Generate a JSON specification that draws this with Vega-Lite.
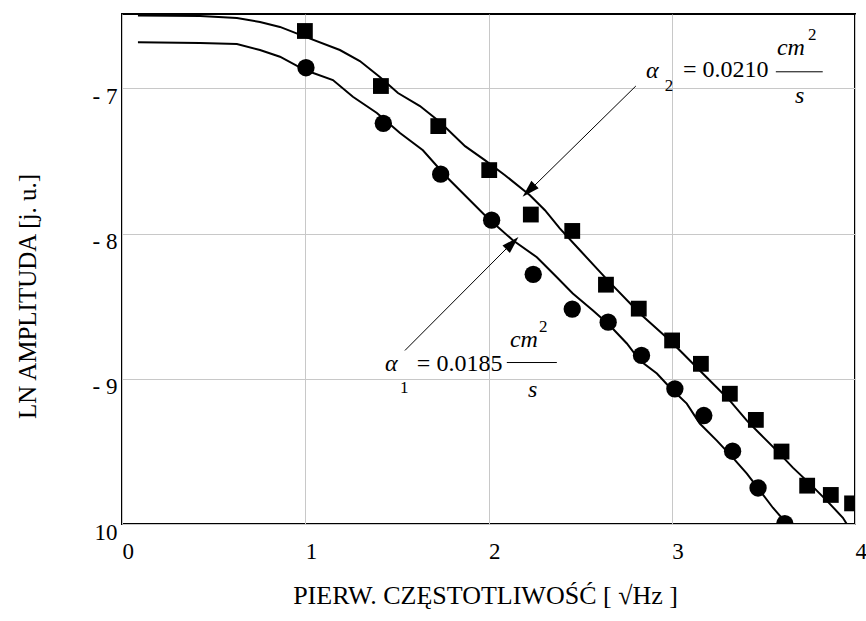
{
  "$schema": "https://vega.github.io/schema/vega-lite/v6.json",
  "width": 733,
  "height": 510,
  "autosize": {"type": "none"},
  "padding": {"left": 122, "top": 14, "right": 11, "bottom": 97},
  "background": "white",
  "config": {
    "view": {"stroke": "black", "strokeWidth": 2},
    "axis": {
      "domain": false,
      "ticks": false,
      "tickSize": 0,
      "grid": true,
      "gridColor": "#c8c8c8",
      "gridWidth": 1,
      "labelFont": "Liberation Serif",
      "labelFontSize": 23,
      "labelColor": "black",
      "labelOverlap": false,
      "labelBound": false,
      "labelFlush": false,
      "titleFont": "Liberation Serif",
      "titleFontSize": 25,
      "titleFontWeight": "normal",
      "titleColor": "black"
    }
  },
  "datasets": {
    "points": [
      {"series": "a2", "x": 0.998, "y": -6.605},
      {"series": "a2", "x": 1.413, "y": -6.984},
      {"series": "a2", "x": 1.726, "y": -7.26},
      {"series": "a2", "x": 2.004, "y": -7.563},
      {"series": "a2", "x": 2.231, "y": -7.869},
      {"series": "a2", "x": 2.457, "y": -7.982},
      {"series": "a2", "x": 2.641, "y": -8.352},
      {"series": "a2", "x": 2.82, "y": -8.517},
      {"series": "a2", "x": 3.002, "y": -8.736},
      {"series": "a2", "x": 3.159, "y": -8.897},
      {"series": "a2", "x": 3.317, "y": -9.103},
      {"series": "a2", "x": 3.459, "y": -9.283},
      {"series": "a2", "x": 3.599, "y": -9.501},
      {"series": "a2", "x": 3.739, "y": -9.736},
      {"series": "a2", "x": 3.868, "y": -9.8},
      {"series": "a2", "x": 3.984, "y": -9.858},
      {"series": "a1", "x": 1.004, "y": -6.858},
      {"series": "a1", "x": 1.426, "y": -7.241},
      {"series": "a1", "x": 1.739, "y": -7.591},
      {"series": "a1", "x": 2.017, "y": -7.908},
      {"series": "a1", "x": 2.244, "y": -8.281},
      {"series": "a1", "x": 2.457, "y": -8.52},
      {"series": "a1", "x": 2.653, "y": -8.61},
      {"series": "a1", "x": 2.835, "y": -8.839},
      {"series": "a1", "x": 3.017, "y": -9.069},
      {"series": "a1", "x": 3.175, "y": -9.253},
      {"series": "a1", "x": 3.332, "y": -9.499},
      {"series": "a1", "x": 3.471, "y": -9.752},
      {"series": "a1", "x": 3.617, "y": -9.997}
    ],
    "curves": [
      {"series": "a2", "x": 0.087, "y": -6.499},
      {"series": "a2", "x": 0.426, "y": -6.501},
      {"series": "a2", "x": 0.627, "y": -6.515},
      {"series": "a2", "x": 0.753, "y": -6.543},
      {"series": "a2", "x": 0.862, "y": -6.577},
      {"series": "a2", "x": 0.998, "y": -6.644},
      {"series": "a2", "x": 1.189, "y": -6.736},
      {"series": "a2", "x": 1.298, "y": -6.812},
      {"series": "a2", "x": 1.407, "y": -6.922},
      {"series": "a2", "x": 1.506, "y": -7.032},
      {"series": "a2", "x": 1.626, "y": -7.122},
      {"series": "a2", "x": 1.735, "y": -7.232},
      {"series": "a2", "x": 1.872, "y": -7.398},
      {"series": "a2", "x": 1.98, "y": -7.494},
      {"series": "a2", "x": 2.09, "y": -7.598},
      {"series": "a2", "x": 2.226, "y": -7.736},
      {"series": "a2", "x": 2.308, "y": -7.839},
      {"series": "a2", "x": 2.389, "y": -7.964},
      {"series": "a2", "x": 2.499, "y": -8.115},
      {"series": "a2", "x": 2.651, "y": -8.322},
      {"series": "a2", "x": 2.826, "y": -8.55},
      {"series": "a2", "x": 2.99, "y": -8.736},
      {"series": "a2", "x": 3.061, "y": -8.826},
      {"series": "a2", "x": 3.153, "y": -8.943},
      {"series": "a2", "x": 3.246, "y": -9.06},
      {"series": "a2", "x": 3.317, "y": -9.15},
      {"series": "a2", "x": 3.41, "y": -9.288},
      {"series": "a2", "x": 3.481, "y": -9.378},
      {"series": "a2", "x": 3.573, "y": -9.495},
      {"series": "a2", "x": 3.661, "y": -9.612},
      {"series": "a2", "x": 3.753, "y": -9.722},
      {"series": "a2", "x": 3.846, "y": -9.839},
      {"series": "a2", "x": 3.934, "y": -9.957},
      {"series": "a2", "x": 3.955, "y": -10.0},
      {"series": "a1", "x": 0.087, "y": -6.683},
      {"series": "a1", "x": 0.426, "y": -6.688},
      {"series": "a1", "x": 0.627, "y": -6.694},
      {"series": "a1", "x": 0.753, "y": -6.736},
      {"series": "a1", "x": 0.862, "y": -6.782},
      {"series": "a1", "x": 0.998, "y": -6.874},
      {"series": "a1", "x": 1.151, "y": -6.943},
      {"series": "a1", "x": 1.26, "y": -7.058},
      {"series": "a1", "x": 1.391, "y": -7.17},
      {"series": "a1", "x": 1.517, "y": -7.308},
      {"series": "a1", "x": 1.642, "y": -7.426},
      {"series": "a1", "x": 1.773, "y": -7.612},
      {"series": "a1", "x": 1.882, "y": -7.75},
      {"series": "a1", "x": 1.991, "y": -7.888},
      {"series": "a1", "x": 2.133, "y": -8.046},
      {"series": "a1", "x": 2.264, "y": -8.163},
      {"series": "a1", "x": 2.373, "y": -8.301},
      {"series": "a1", "x": 2.46, "y": -8.412},
      {"series": "a1", "x": 2.57, "y": -8.53},
      {"series": "a1", "x": 2.662, "y": -8.633},
      {"series": "a1", "x": 2.755, "y": -8.757},
      {"series": "a1", "x": 2.826, "y": -8.874},
      {"series": "a1", "x": 2.919, "y": -8.964},
      {"series": "a1", "x": 2.99, "y": -9.06},
      {"series": "a1", "x": 3.082, "y": -9.171},
      {"series": "a1", "x": 3.153, "y": -9.308},
      {"series": "a1", "x": 3.246, "y": -9.426},
      {"series": "a1", "x": 3.333, "y": -9.543},
      {"series": "a1", "x": 3.41, "y": -9.653},
      {"series": "a1", "x": 3.481, "y": -9.77},
      {"series": "a1", "x": 3.552, "y": -9.888},
      {"series": "a1", "x": 3.628, "y": -9.998}
    ],
    "italic": [
      {"x": 2.859, "y": -6.929, "t": "α"},
      {"x": 3.574, "y": -6.77, "t": "cm"},
      {"x": 3.673, "y": -7.101, "t": "s"},
      {"x": 1.435, "y": -8.943, "t": "α"},
      {"x": 2.117, "y": -8.784, "t": "cm"},
      {"x": 2.215, "y": -9.122, "t": "s"}
    ],
    "main": [
      {"x": 3.061, "y": -6.922, "t": "= 0.0210"},
      {"x": 1.609, "y": -8.943, "t": "= 0.0185"}
    ],
    "small": [
      {"x": 2.962, "y": -7.019, "t": "2"},
      {"x": 3.743, "y": -6.667, "t": "2"},
      {"x": 1.517, "y": -9.095, "t": "1"},
      {"x": 2.275, "y": -8.681, "t": "2"}
    ],
    "bars": [
      {"x": 3.568, "x2": 3.824, "y": -6.886},
      {"x": 2.1, "x2": 2.373, "y": -8.888}
    ],
    "arrows": [
      {"name": "a2", "x": 2.804, "y": -6.984, "x2": 2.21, "y2": -7.72},
      {"name": "a1", "x": 1.544, "y": -8.805, "x2": 2.14, "y2": -8.05}
    ],
    "heads": [
      {"name": "a2", "x": 2.22, "y": -7.704},
      {"name": "a1", "x": 2.13, "y": -8.066}
    ]
  },
  "encoding": {
    "x": {
      "field": "x",
      "type": "quantitative",
      "scale": {"domain": [0, 4], "nice": false, "zero": false},
      "axis": {
        "values": [0, 1, 2, 3, 4],
        "title": "PIERW. CZĘSTOTLIWOŚĆ [ √Hz ]",
        "titleFontSize": 26,
        "labelAlign": "left",
        "labelBaseline": "top",
        "labelPadding": 16,
        "titleX": 363,
        "titleY": 79,
        "titleAlign": "center",
        "titleBaseline": "alphabetic"
      }
    },
    "y": {
      "field": "y",
      "type": "quantitative",
      "scale": {"domain": [-10, -6.488], "nice": false, "zero": false},
      "axis": {
        "values": [-10, -9, -8, -7],
        "labelExpr": "datum.value <= -10 ? '10' : '- ' + abs(datum.value)",
        "labelBaseline": "top",
        "labelPadding": 5,
        "labelOffset": -3,
        "title": "LN AMPLITUDA [j. u.]",
        "titleX": -87,
        "titleY": 282,
        "titleAngle": -90,
        "titleAlign": "center",
        "titleBaseline": "alphabetic"
      }
    }
  },
  "layer": [
    {
      "data": {"name": "curves"},
      "mark": {"type": "line", "color": "black", "strokeWidth": 2, "clip": true},
      "encoding": {"detail": {"field": "series", "type": "nominal"}}
    },
    {
      "data": {"name": "points"},
      "transform": [{"filter": "datum.series === 'a2'"}],
      "mark": {"type": "point", "shape": "square", "filled": true, "color": "black", "opacity": 1, "size": 250, "clip": true}
    },
    {
      "data": {"name": "points"},
      "transform": [{"filter": "datum.series === 'a1'"}],
      "mark": {"type": "point", "shape": "circle", "filled": true, "color": "black", "opacity": 1, "size": 300, "clip": true}
    },
    {
      "data": {"name": "arrows"},
      "mark": {"type": "rule", "color": "black", "strokeWidth": 1},
      "encoding": {
        "x2": {"field": "x2"},
        "y2": {"field": "y2"}
      }
    },
    {
      "data": {"name": "heads"},
      "transform": [{"filter": "datum.name === 'a2'"}],
      "mark": {"type": "point", "shape": "M0,-1L-0.6,1L0.6,1Z", "filled": true, "color": "black", "opacity": 1, "size": 300, "angle": 225.7}
    },
    {
      "data": {"name": "heads"},
      "transform": [{"filter": "datum.name === 'a1'"}],
      "mark": {"type": "point", "shape": "M0,-1L-0.6,1L0.6,1Z", "filled": true, "color": "black", "opacity": 1, "size": 300, "angle": 45}
    },
    {
      "data": {"name": "bars"},
      "mark": {"type": "rule", "color": "black", "strokeWidth": 1},
      "encoding": {"x2": {"field": "x2"}}
    },
    {
      "data": {"name": "italic"},
      "mark": {"type": "text", "font": "Liberation Serif", "fontStyle": "italic", "fontSize": 24, "align": "left", "baseline": "alphabetic", "color": "black"},
      "encoding": {"text": {"field": "t"}}
    },
    {
      "data": {"name": "main"},
      "mark": {"type": "text", "font": "Liberation Serif", "fontSize": 24, "align": "left", "baseline": "alphabetic", "color": "black"},
      "encoding": {"text": {"field": "t"}}
    },
    {
      "data": {"name": "small"},
      "mark": {"type": "text", "font": "Liberation Serif", "fontSize": 17, "align": "left", "baseline": "alphabetic", "color": "black"},
      "encoding": {"text": {"field": "t"}}
    }
  ]
}
